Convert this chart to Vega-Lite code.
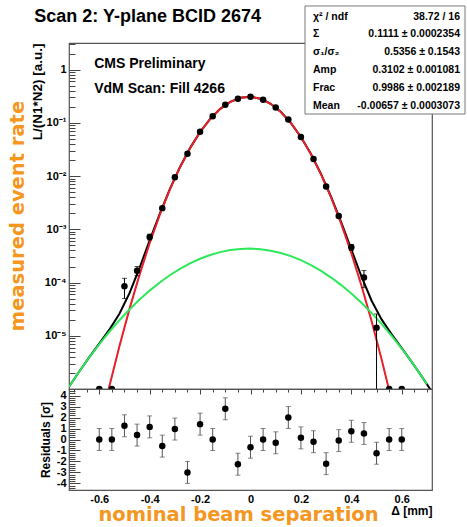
{
  "$schema": "https://vega.github.io/schema/vega-lite/v6.json",
  "padding": {"left": 7, "top": 4, "right": 0, "bottom": 0},
  "spacing": 0,
  "bounds": "flush",
  "config": {
    "font": "Liberation Sans",
    "view": {"stroke": "#555", "strokeWidth": 1.2},
    "axis": {"labelFont": "Liberation Sans", "labelFontWeight": "bold", "labelFontSize": 11, "labelColor": "black", "titleFont": "Liberation Sans", "titleFontWeight": "bold", "titleFontSize": 12, "titleColor": "black", "ticks": false, "domain": false, "grid": true, "gridColor": "#444", "gridWidth": 1, "gridOpacity": 1, "labelOverlap": false, "labelFlush": false}
  },
  "datasets": {
    "points": [
      {"x": -0.60, "y": 1e-6, "lo": 1e-6, "hi": 1e-6, "res": 0, "rlo": -1, "rhi": 1},
      {"x": -0.55, "y": 1e-6, "lo": 1e-6, "hi": 1e-6, "res": 0, "rlo": -1, "rhi": 1},
      {"x": -0.50, "y": 8.5e-5, "lo": 5.0e-5, "hi": 1.2e-4, "res": 1.25, "rlo": 0.25, "rhi": 2.25},
      {"x": -0.45, "y": 1.67e-4, "lo": 1.34e-4, "hi": 2.0e-4, "res": 0.4, "rlo": -0.6, "rhi": 1.4},
      {"x": -0.40, "y": 7.2e-4, "lo": 6.3e-4, "hi": 8.1e-4, "res": 1.15, "rlo": 0.15, "rhi": 2.15},
      {"x": -0.35, "y": 2.5e-3, "lo": 2.35e-3, "hi": 2.65e-3, "res": -0.6, "rlo": -1.6, "rhi": 0.4},
      {"x": -0.30, "y": 9.5e-3, "lo": 9.25e-3, "hi": 9.75e-3, "res": 0.95, "rlo": -0.05, "rhi": 1.95},
      {"x": -0.25, "y": 0.0262, "lo": 0.0258, "hi": 0.0266, "res": -3.0, "rlo": -4.0, "rhi": -2.0},
      {"x": -0.20, "y": 0.068, "lo": 0.0674, "hi": 0.0686, "res": 1.4, "rlo": 0.4, "rhi": 2.4},
      {"x": -0.15, "y": 0.1335, "lo": 0.1327, "hi": 0.1343, "res": 0, "rlo": -1, "rhi": 1},
      {"x": -0.10, "y": 0.219, "lo": 0.218, "hi": 0.220, "res": 2.8, "rlo": 1.8, "rhi": 3.8},
      {"x": -0.05, "y": 0.284, "lo": 0.283, "hi": 0.285, "res": -2.25, "rlo": -3.25, "rhi": -1.25},
      {"x": 0.00, "y": 0.308, "lo": 0.307, "hi": 0.309, "res": -0.7, "rlo": -1.7, "rhi": 0.3},
      {"x": 0.05, "y": 0.2717, "lo": 0.2707, "hi": 0.2727, "res": 0, "rlo": -1, "rhi": 1},
      {"x": 0.10, "y": 0.1943, "lo": 0.1935, "hi": 0.1951, "res": -0.3, "rlo": -1.3, "rhi": 0.7},
      {"x": 0.15, "y": 0.116, "lo": 0.1153, "hi": 0.1167, "res": 2.0, "rlo": 1.0, "rhi": 3.0},
      {"x": 0.20, "y": 0.0540, "lo": 0.0535, "hi": 0.0545, "res": 0.15, "rlo": -0.85, "rhi": 1.15},
      {"x": 0.25, "y": 0.0210, "lo": 0.0207, "hi": 0.0213, "res": -0.2, "rlo": -1.2, "rhi": 0.8},
      {"x": 0.30, "y": 6.4e-3, "lo": 6.25e-3, "hi": 6.55e-3, "res": -2.2, "rlo": -3.2, "rhi": -1.2},
      {"x": 0.35, "y": 1.78e-3, "lo": 1.68e-3, "hi": 1.88e-3, "res": -0.1, "rlo": -1.1, "rhi": 0.9},
      {"x": 0.40, "y": 4.6e-4, "lo": 4.0e-4, "hi": 5.2e-4, "res": 0.75, "rlo": -0.25, "rhi": 1.75},
      {"x": 0.45, "y": 1.24e-4, "lo": 8.0e-5, "hi": 1.68e-4, "res": 0.55, "rlo": -0.45, "rhi": 1.55},
      {"x": 0.50, "y": 1.41e-5, "lo": 9e-7, "hi": 2.57e-5, "res": -1.25, "rlo": -2.25, "rhi": -0.25},
      {"x": 0.55, "y": 1e-6, "lo": 1e-6, "hi": 1e-6, "res": 0, "rlo": -1, "rhi": 1},
      {"x": 0.60, "y": 1e-6, "lo": 1e-6, "hi": 1e-6, "res": 0, "rlo": -1, "rhi": 1}
    ],
    "total": [
      {"x": -0.72, "y": 1.10e-6}, {"x": -0.68, "y": 2.11e-6}, {"x": -0.64, "y": 3.92e-6}, {"x": -0.60, "y": 7.10e-6},
      {"x": -0.56, "y": 1.30e-5}, {"x": -0.52, "y": 2.60e-5}, {"x": -0.48, "y": 6.32e-5}, {"x": -0.44, "y": 1.89e-4},
      {"x": -0.40, "y": 6.19e-4}, {"x": -0.36, "y": 1.96e-3}, {"x": -0.32, "y": 5.69e-3}, {"x": -0.28, "y": 0.01470},
      {"x": -0.24, "y": 0.03351}, {"x": -0.20, "y": 0.06728}, {"x": -0.16, "y": 0.11853}, {"x": -0.12, "y": 0.18337},
      {"x": -0.08, "y": 0.24881}, {"x": -0.04, "y": 0.29633}, {"x": 0.00, "y": 0.30973}, {"x": 0.04, "y": 0.28392},
      {"x": 0.08, "y": 0.22820}, {"x": 0.12, "y": 0.16106}, {"x": 0.16, "y": 0.09971}, {"x": 0.20, "y": 0.05426},
      {"x": 0.24, "y": 0.02590}, {"x": 0.28, "y": 0.01089}, {"x": 0.32, "y": 4.05e-3}, {"x": 0.36, "y": 1.35e-3},
      {"x": 0.40, "y": 4.18e-4}, {"x": 0.44, "y": 1.30e-4}, {"x": 0.48, "y": 4.60e-5}, {"x": 0.52, "y": 2.03e-5},
      {"x": 0.56, "y": 1.06e-5}, {"x": 0.60, "y": 5.85e-6}, {"x": 0.64, "y": 3.2e-6}, {"x": 0.68, "y": 1.71e-6},
      {"x": 0.72, "y": 8.8e-7}
    ],
    "narrow": [
      {"x": -0.64, "y": 2.27e-8}, {"x": -0.60, "y": 1.69e-7}, {"x": -0.56, "y": 1.11e-6}, {"x": -0.52, "y": 6.37e-6},
      {"x": -0.48, "y": 3.20e-5}, {"x": -0.44, "y": 1.41e-4}, {"x": -0.40, "y": 5.48e-4}, {"x": -0.36, "y": 1.86e-3},
      {"x": -0.32, "y": 5.55e-3}, {"x": -0.28, "y": 0.01452}, {"x": -0.24, "y": 0.03328}, {"x": -0.20, "y": 0.0670},
      {"x": -0.16, "y": 0.1182}, {"x": -0.12, "y": 0.1830}, {"x": -0.08, "y": 0.2484}, {"x": -0.04, "y": 0.2959},
      {"x": 0.00, "y": 0.3093}, {"x": 0.04, "y": 0.2835}, {"x": 0.08, "y": 0.2278}, {"x": 0.12, "y": 0.1607},
      {"x": 0.16, "y": 0.0994}, {"x": 0.20, "y": 0.0540}, {"x": 0.24, "y": 0.02569}, {"x": 0.28, "y": 0.01072},
      {"x": 0.32, "y": 3.93e-3}, {"x": 0.36, "y": 1.26e-3}, {"x": 0.40, "y": 3.56e-4}, {"x": 0.44, "y": 8.79e-5},
      {"x": 0.48, "y": 1.91e-5}, {"x": 0.52, "y": 3.63e-6}, {"x": 0.56, "y": 6.05e-7}, {"x": 0.60, "y": 8.86e-8},
      {"x": 0.64, "y": 1.14e-8}
    ],
    "wide": [
      {"x": -0.72, "y": 1.10e-6}, {"x": -0.68, "y": 2.11e-6}, {"x": -0.64, "y": 3.90e-6}, {"x": -0.60, "y": 6.93e-6},
      {"x": -0.56, "y": 1.19e-5}, {"x": -0.52, "y": 1.96e-5}, {"x": -0.48, "y": 3.12e-5}, {"x": -0.44, "y": 4.78e-5},
      {"x": -0.40, "y": 7.05e-5}, {"x": -0.36, "y": 1.00e-4}, {"x": -0.32, "y": 1.37e-4}, {"x": -0.28, "y": 1.80e-4},
      {"x": -0.24, "y": 2.29e-4}, {"x": -0.20, "y": 2.80e-4}, {"x": -0.16, "y": 3.29e-4}, {"x": -0.12, "y": 3.73e-4},
      {"x": -0.08, "y": 4.07e-4}, {"x": -0.04, "y": 4.28e-4}, {"x": 0.00, "y": 4.34e-4}, {"x": 0.04, "y": 4.23e-4},
      {"x": 0.08, "y": 3.97e-4}, {"x": 0.12, "y": 3.59e-4}, {"x": 0.16, "y": 3.13e-4}, {"x": 0.20, "y": 2.63e-4},
      {"x": 0.24, "y": 2.12e-4}, {"x": 0.28, "y": 1.65e-4}, {"x": 0.32, "y": 1.24e-4}, {"x": 0.36, "y": 8.95e-5},
      {"x": 0.40, "y": 6.22e-5}, {"x": 0.44, "y": 4.17e-5}, {"x": 0.48, "y": 2.69e-5}, {"x": 0.52, "y": 1.67e-5},
      {"x": 0.56, "y": 1.00e-5}, {"x": 0.60, "y": 5.76e-6}, {"x": 0.64, "y": 3.19e-6}, {"x": 0.68, "y": 1.71e-6},
      {"x": 0.70, "y": 1.23e-6}
    ],
    "statlabels": [{"t": ["χ² / ndf", "Σ", "σ₁/σ₂", "Amp", "Frac", "Mean"]}],
    "statvalues": [{"t": ["38.72 / 16", "0.1111 ± 0.0002354", "0.5356 ± 0.1543", "0.3102 ± 0.001081", "0.9986 ± 0.002189", "-0.00657 ± 0.0003073"]}],
    "cms": [{"t": ["CMS Preliminary", "VdM Scan: Fill 4266"]}],
    "heading": [{"t": "Scan 2: Y-plane BCID 2674"}],
    "statbox": [{"t": "stats"}]
  },
  "vconcat": [
    {
      "width": 363,
      "height": 346,
      "title": {"text": "measured event rate", "orient": "left", "anchor": "middle", "frame": "group", "fontSize": 19.5, "fontWeight": "bold", "color": "#f5961e", "font": "DejaVu Sans", "offset": 2},
      "layer": [
        {"data": {"name": "total"}, "mark": {"type": "line", "color": "black", "strokeWidth": 2, "clip": true},
          "encoding": {
            "x": {"field": "x", "type": "quantitative", "scale": {"domain": [-0.72, 0.72], "nice": false, "zero": false}, "axis": null},
            "y": {"field": "y", "type": "quantitative", "scale": {"type": "log", "domain": [1e-6, 3.1623], "nice": false},
              "axis": {
                "title": "L/(N1*N2) [a.u.]", "titleAnchor": "end", "titlePadding": 0, "titleFontSize": 13.5, "labelOverlap": false,
                "values": [1e-6,2e-6,3e-6,4e-6,5e-6,6e-6,7e-6,8e-6,9e-6,1e-5,2e-5,3e-5,4e-5,5e-5,6e-5,7e-5,8e-5,9e-5,1e-4,2e-4,3e-4,4e-4,5e-4,6e-4,7e-4,8e-4,9e-4,0.001,0.002,0.003,0.004,0.005,0.006,0.007,0.008,0.009,0.01,0.02,0.03,0.04,0.05,0.06,0.07,0.08,0.09,0.1,0.2,0.3,0.4,0.5,0.6,0.7,0.8,0.9,1,2,3],
                "labelExpr": "datum.value < 1.5e-6 ? '' : (abs(log(datum.value)/LN10 - round(log(datum.value)/LN10)) > 0.001 ? '' : (round(log(datum.value)/LN10) == 0 ? '1' : '10' + ['⁻⁶','⁻⁵','⁻⁴','⁻³','⁻²','⁻¹'][round(log(datum.value)/LN10) + 6]))",
                "gridDash": {"condition": {"test": "abs(log(datum.value)/LN10 - round(log(datum.value)/LN10)) < 0.001", "value": [11, 1000]}, "value": [6, 1000]},
                "labelPadding": 3
              }
            }
          }
        },
        {"data": {"name": "narrow"}, "mark": {"type": "line", "color": "#e8202a", "strokeWidth": 2, "clip": true},
          "encoding": {"x": {"field": "x", "type": "quantitative"}, "y": {"field": "y", "type": "quantitative"}}},
        {"data": {"name": "wide"}, "mark": {"type": "line", "color": "#2de85a", "strokeWidth": 2, "clip": true},
          "encoding": {"x": {"field": "x", "type": "quantitative"}, "y": {"field": "y", "type": "quantitative"}}},
        {"data": {"name": "points"}, "mark": {"type": "rule", "color": "black", "strokeWidth": 1, "clip": true},
          "encoding": {"x": {"field": "x", "type": "quantitative"}, "y": {"field": "lo", "type": "quantitative"}, "y2": {"field": "hi"}}},
        {"data": {"name": "points"}, "mark": {"type": "tick", "orient": "horizontal", "size": 5, "thickness": 1, "color": "black", "clip": true},
          "encoding": {"x": {"field": "x", "type": "quantitative"}, "y": {"field": "hi", "type": "quantitative"}}},
        {"data": {"name": "points"}, "mark": {"type": "tick", "orient": "horizontal", "size": 5, "thickness": 1, "color": "black", "clip": true},
          "encoding": {"x": {"field": "x", "type": "quantitative"}, "y": {"field": "lo", "type": "quantitative"}}},
        {"data": {"name": "points"}, "mark": {"type": "circle", "size": 42, "color": "black", "opacity": 1, "clip": true},
          "encoding": {"x": {"field": "x", "type": "quantitative"}, "y": {"field": "y", "type": "quantitative"}}},
        {"data": {"name": "statbox"}, "mark": {"type": "rect", "fill": "white", "stroke": "#777", "strokeWidth": 1},
          "encoding": {"x": {"datum": 0.2162}, "x2": {"datum": 0.851}, "y": {"datum": 15.7}, "y2": {"datum": 0.1466}}},
        {"data": {"name": "statlabels"}, "mark": {"type": "text", "align": "left", "baseline": "top", "fontSize": 10.5, "fontWeight": "bold", "lineHeight": 17.8, "font": "Liberation Sans"},
          "encoding": {"text": {"field": "t"}, "x": {"datum": 0.248}, "y": {"datum": 12.3}}},
        {"data": {"name": "statvalues"}, "mark": {"type": "text", "align": "right", "baseline": "top", "fontSize": 10.5, "fontWeight": "bold", "lineHeight": 17.8, "font": "Liberation Sans"},
          "encoding": {"text": {"field": "t"}, "x": {"datum": 0.831}, "y": {"datum": 12.3}}},
        {"data": {"name": "cms"}, "mark": {"type": "text", "align": "left", "baseline": "top", "fontSize": 14, "fontWeight": "bold", "lineHeight": 25, "font": "Liberation Sans"},
          "encoding": {"text": {"field": "t"}, "x": {"datum": -0.62}, "y": {"datum": 1.7}}},
        {"data": {"name": "heading"}, "mark": {"type": "text", "align": "left", "baseline": "top", "fontSize": 18, "fontWeight": "bold", "font": "Liberation Sans"},
          "encoding": {"text": {"field": "t"}, "x": {"datum": -0.858}, "y": {"datum": 14.2}}}
      ]
    },
    {
      "width": 363,
      "height": 101,
      "data": {"name": "points"},
      "title": {"text": "nominal beam separation", "orient": "bottom", "anchor": "middle", "frame": "group", "fontSize": 19.5, "fontWeight": "bold", "color": "#f5961e", "font": "DejaVu Sans", "offset": -10, "dx": -12},
      "encoding": {
        "x": {"field": "x", "type": "quantitative", "scale": {"domain": [-0.72, 0.72], "nice": false, "zero": false},
          "axis": {
            "title": "Δ [mm]", "titleAnchor": "end", "titlePadding": 1, "labelOverlap": false,
            "values": [-0.7,-0.65,-0.6,-0.55,-0.5,-0.45,-0.4,-0.35,-0.3,-0.25,-0.2,-0.15,-0.1,-0.05,0,0.05,0.1,0.15,0.2,0.25,0.3,0.35,0.4,0.45,0.5,0.55,0.6,0.65,0.7],
            "labelExpr": "abs(datum.value*5 - round(datum.value*5)) < 0.001 ? (datum.value == 0 ? '0' : (datum.value < 0 ? '-' : '') + format(abs(datum.value), '.1f')) : ''",
            "gridDash": {"condition": {"test": "abs(datum.value*5 - round(datum.value*5)) < 0.001", "value": [5, 1000]}, "value": [3, 1000]},
            "labelPadding": 3
          }
        }
      },
      "layer": [
        {"mark": {"type": "rule", "color": "#555", "strokeWidth": 1}, "encoding": {"y": {"field": "rlo", "type": "quantitative", "scale": {"domain": [-4.6, 4.6], "nice": false},
          "axis": {"title": "Residuals [σ]", "titleAnchor": "middle", "titlePadding": 4, "labelOverlap": false, "labelFontSize": 11,
            "values": [-4.4,-4.2,-4,-3.8,-3.6,-3.4,-3.2,-3,-2.8,-2.6,-2.4,-2.2,-2,-1.8,-1.6,-1.4,-1.2,-1,-0.8,-0.6,-0.4,-0.2,0,0.2,0.4,0.6,0.8,1,1.2,1.4,1.6,1.8,2,2.2,2.4,2.6,2.8,3,3.2,3.4,3.6,3.8,4,4.2,4.4],
            "labelExpr": "abs(datum.value - round(datum.value)) < 0.001 ? (datum.value == 0 ? '0' : (datum.value < 0 ? '-' : '') + format(abs(datum.value), '.0f')) : ''",
            "gridDash": {"condition": {"test": "abs(datum.value - round(datum.value)) < 0.001", "value": [11, 1000]}, "value": [6, 1000]},
            "labelPadding": 3}}, "y2": {"field": "rhi"}}},
        {"mark": {"type": "tick", "orient": "horizontal", "size": 5, "thickness": 1, "color": "#555"}, "encoding": {"y": {"field": "rhi", "type": "quantitative",
          "axis": {"title": "Residuals [σ]", "titleAnchor": "middle", "titlePadding": 4, "labelOverlap": false, "labelFontSize": 11,
            "values": [-4.4,-4.2,-4,-3.8,-3.6,-3.4,-3.2,-3,-2.8,-2.6,-2.4,-2.2,-2,-1.8,-1.6,-1.4,-1.2,-1,-0.8,-0.6,-0.4,-0.2,0,0.2,0.4,0.6,0.8,1,1.2,1.4,1.6,1.8,2,2.2,2.4,2.6,2.8,3,3.2,3.4,3.6,3.8,4,4.2,4.4],
            "labelExpr": "abs(datum.value - round(datum.value)) < 0.001 ? (datum.value == 0 ? '0' : (datum.value < 0 ? '-' : '') + format(abs(datum.value), '.0f')) : ''",
            "gridDash": {"condition": {"test": "abs(datum.value - round(datum.value)) < 0.001", "value": [11, 1000]}, "value": [6, 1000]},
            "labelPadding": 3}}}},
        {"mark": {"type": "tick", "orient": "horizontal", "size": 5, "thickness": 1, "color": "#555"}, "encoding": {"y": {"field": "rlo", "type": "quantitative",
          "axis": {"title": "Residuals [σ]", "titleAnchor": "middle", "titlePadding": 4, "labelOverlap": false, "labelFontSize": 11,
            "values": [-4.4,-4.2,-4,-3.8,-3.6,-3.4,-3.2,-3,-2.8,-2.6,-2.4,-2.2,-2,-1.8,-1.6,-1.4,-1.2,-1,-0.8,-0.6,-0.4,-0.2,0,0.2,0.4,0.6,0.8,1,1.2,1.4,1.6,1.8,2,2.2,2.4,2.6,2.8,3,3.2,3.4,3.6,3.8,4,4.2,4.4],
            "labelExpr": "abs(datum.value - round(datum.value)) < 0.001 ? (datum.value == 0 ? '0' : (datum.value < 0 ? '-' : '') + format(abs(datum.value), '.0f')) : ''",
            "gridDash": {"condition": {"test": "abs(datum.value - round(datum.value)) < 0.001", "value": [11, 1000]}, "value": [6, 1000]},
            "labelPadding": 3}}}},
        {"mark": {"type": "circle", "size": 42, "color": "black", "opacity": 1}, "encoding": {"y": {"field": "res", "type": "quantitative",
          "axis": {"title": "Residuals [σ]", "titleAnchor": "middle", "titlePadding": 4, "labelOverlap": false, "labelFontSize": 11,
            "values": [-4.4,-4.2,-4,-3.8,-3.6,-3.4,-3.2,-3,-2.8,-2.6,-2.4,-2.2,-2,-1.8,-1.6,-1.4,-1.2,-1,-0.8,-0.6,-0.4,-0.2,0,0.2,0.4,0.6,0.8,1,1.2,1.4,1.6,1.8,2,2.2,2.4,2.6,2.8,3,3.2,3.4,3.6,3.8,4,4.2,4.4],
            "labelExpr": "abs(datum.value - round(datum.value)) < 0.001 ? (datum.value == 0 ? '0' : (datum.value < 0 ? '-' : '') + format(abs(datum.value), '.0f')) : ''",
            "gridDash": {"condition": {"test": "abs(datum.value - round(datum.value)) < 0.001", "value": [11, 1000]}, "value": [6, 1000]},
            "labelPadding": 3}}}}
      ]
    }
  ]
}
